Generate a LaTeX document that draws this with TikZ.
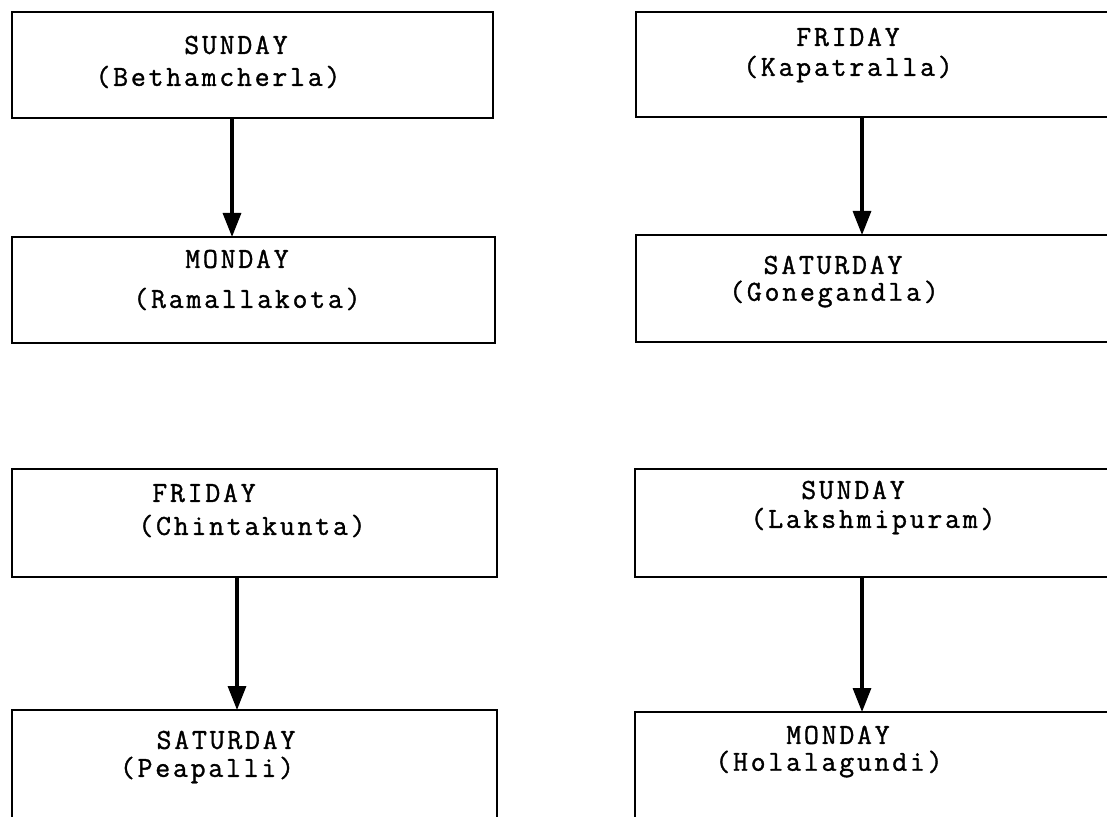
\documentclass[tikz,border=0pt]{standalone}
\usepackage{fontspec}
\newfontfamily\daymono[LetterSpace=9.5,FakeBold=1.2]{Latin Modern Mono}
\usetikzlibrary{arrows.meta}
\begin{document}
\begin{tikzpicture}[x=0.5pt,y=-0.5pt,
  box/.style={draw, line width=1.4pt, rectangle, inner sep=0pt, outer sep=0pt},
  lbl/.style={inner sep=0pt, font=\daymono\fontsize{14.5}{17}\selectfont},
  arr/.style={line width=1.6pt, -{Triangle[length=12pt,width=9pt]}}]
\useasboundingbox (0,0) rectangle (1107,817);
\clip (0,0) rectangle (1107,817);

% upper left pair
\node[box, minimum width=240.5pt, minimum height=53pt] (L1) at (252.5,65) {};
\node[box, minimum width=241.5pt, minimum height=53pt] (L2) at (253.5,290) {};
\node[lbl] (L1a) at (236,45) {SUNDAY};
\node[lbl] (L1b) at (218,77) {(Bethamcherla)};
\node[lbl] (L2a) at (237,259) {MONDAY};
\node[lbl] (L2b) at (247,299) {(Ramallakota)};
\draw[arr] ([xshift=-10.25pt]L1.south) -- ([xshift=-10.25pt]L1.south |- L2.north);

% upper right pair
\node[box, minimum width=252pt, minimum height=52.5pt] (R1) at (888,64.5) {};
\node[box, minimum width=252pt, minimum height=53.5pt] (R2) at (888,288.5) {};
\node[lbl] (R1a) at (848,37) {FRIDAY};
\node[lbl] (R1b) at (848,69) {(Kapatralla)};
\node[lbl] (R2a) at (833,265) {SATURDAY};
\node[lbl] (R2b) at (834,294) {(Gonegandla)};
\draw[arr] ([xshift=-13pt]R1.south) -- ([xshift=-13pt]R1.south |- R2.north);

% lower left pair
\node[box, minimum width=242.5pt, minimum height=54pt] (L3) at (254.5,523) {};
\node[box, minimum width=242.5pt, minimum height=65pt] (L4) at (254.5,775) {};
\node[lbl] (L3a) at (204,493) {FRIDAY};
\node[lbl] (L3b) at (252,526) {(Chintakunta)};
\node[lbl] (L4a) at (226,740) {SATURDAY};
\node[lbl] (L4b) at (207,770) {(Peapalli)};
\draw[arr] ([xshift=-8.75pt]L3.south) -- ([xshift=-8.75pt]L3.south |- L4.north);

% lower right pair
\node[box, minimum width=252.5pt, minimum height=54pt] (R3) at (887.5,523) {};
\node[box, minimum width=252.5pt, minimum height=64pt] (R4) at (887.5,776) {};
\node[lbl] (R3a) at (853,490) {SUNDAY};
\node[lbl] (R3b) at (873,521) {(Lakshmipuram)};
\node[lbl] (R4a) at (838,735) {MONDAY};
\node[lbl] (R4b) at (829,764) {(Holalagundi)};
\draw[arr] ([xshift=-12.75pt]R3.south) -- ([xshift=-12.75pt]R3.south |- R4.north);
\end{tikzpicture}
\end{document}
